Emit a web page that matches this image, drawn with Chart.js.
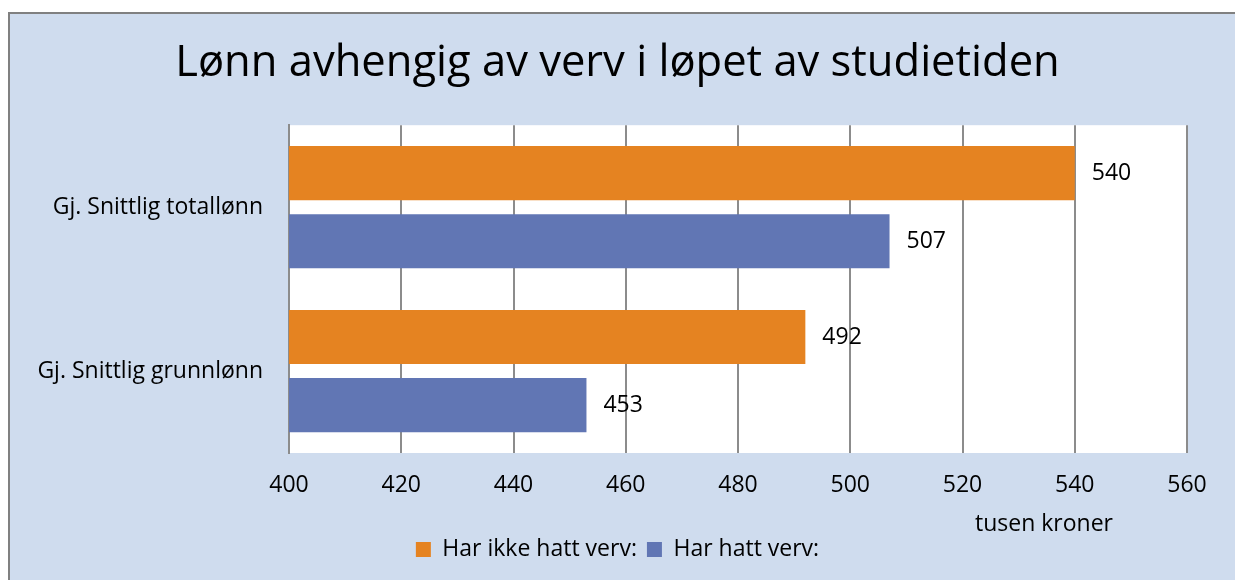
<!DOCTYPE html>
<html>
<head>
<meta charset="utf-8">
<script src="https://cdn.jsdelivr.net/npm/chart.js@4"></script>
<style>
  html, body { margin: 0; padding: 0; background: #fff; }
  #wrap { position: absolute; left: 0; top: 0; width: 1235px; height: 580px; }
</style>
</head>
<body>
<div id="wrap"><canvas id="myChart"></canvas></div>
<script>
// data
var categories = ['Gj. Snittlig totallønn', 'Gj. Snittlig grunnlønn'];
var seriesNames = ['Har ikke hatt verv:', 'Har hatt verv:'];
var ikkeVerv = [540, 492];
var hattVerv = [507, 453];
var xTicks = [400, 420, 440, 460, 480, 500, 520, 540, 560];

var FONT = "'Open Sans', sans-serif";

// frame + white plot area
var framePlugin = {
    id: 'frame',
    beforeDraw: function(chart) {
        var ctx = chart.ctx, a = chart.chartArea;
        ctx.save();
        ctx.fillStyle = '#ffffff';
        ctx.fillRect(0, 0, chart.width, chart.height);
        ctx.fillStyle = '#cfdcee';
        ctx.fillRect(8, 12, chart.width - 8, chart.height - 12);
        ctx.strokeStyle = '#808080';
        ctx.lineWidth = 2;
        ctx.beginPath();
        ctx.moveTo(9, chart.height);
        ctx.lineTo(9, 13);
        ctx.lineTo(chart.width, 13);
        ctx.stroke();
        ctx.fillStyle = '#ffffff';
        ctx.fillRect(a.left, a.top, a.right - a.left, a.bottom - a.top);
        ctx.restore();
    }
};

// value labels next to the bars + unit text
var labelPlugin = {
    id: 'valueLabels',
    afterDatasetsDraw: function(chart) {
        var ctx = chart.ctx;
        ctx.save();
        ctx.font = '23px ' + FONT;
        ctx.fillStyle = '#000';
        ctx.textAlign = 'left';
        ctx.textBaseline = 'middle';
        chart.data.datasets.forEach(function(ds, i) {
            var meta = chart.getDatasetMeta(i);
            meta.data.forEach(function(bar, j) {
                ctx.fillText(ds.data[j], bar.x + 17, bar.y);
            });
        });
        ctx.textAlign = 'center';
        ctx.fillText('tusen kroner', 1044, 524);
        ctx.restore();
    }
};

const data = {
    labels: categories,
    datasets: [{
        label: seriesNames[0],
        data: ikkeVerv,
        backgroundColor: 'rgb(229,131,33)',
        categoryPercentage: 0.832,
        barPercentage: 0.794
    },
    {
        label: seriesNames[1],
        data: hattVerv,
        backgroundColor: 'rgb(97,118,180)',
        categoryPercentage: 0.832,
        barPercentage: 0.794
    }]
};

const config = {
    type: 'bar',
    data: data,
    options: {
        indexAxis: 'y',
        responsive: false,
        animation: false,
        layout: { padding: { left: 0, right: 0, top: 0, bottom: 9 } },
        plugins: {
            title: {
                display: true,
                text: 'Lønn avhengig av verv i løpet av studietiden',
                color: '#000',
                font: { family: FONT, size: 43.5, weight: 'normal', lineHeight: 1.2 },
                padding: { top: 38, bottom: 35 }
            },
            legend: {
                position: 'bottom',
                labels: {
                    color: '#000',
                    font: { family: FONT, size: 23 },
                    boxWidth: 15,
                    boxHeight: 15,
                    padding: 10
                }
            },
            tooltip: { enabled: false }
        },
        scales: {
            x: {
                min: 400,
                max: 560,
                afterBuildTicks: function(scale) {
                    scale.ticks = xTicks.map(function(v) { return { value: v }; });
                },
                afterFit: function(scale) {
                    scale.height = 75;
                    scale.paddingRight = 48;
                },
                grid: { color: '#8c8c8c', lineWidth: 2, drawTicks: false },
                border: { display: false },
                ticks: { color: '#000', font: { family: FONT, size: 23 }, padding: 19, maxRotation: 0 }
            },
            y: {
                afterFit: function(scale) { scale.width = 289; },
                grid: { display: false, drawTicks: false },
                border: { display: true, color: '#8c8c8c', width: 2 },
                ticks: { color: '#000', font: { family: FONT, size: 23 }, padding: 26 }
            }
        }
    },
    plugins: [framePlugin, labelPlugin]
};

const c = document.getElementById('myChart');
c.width = 1235;
c.height = 580;
const myChart = new Chart(c, config);
</script>
</body>
</html>
